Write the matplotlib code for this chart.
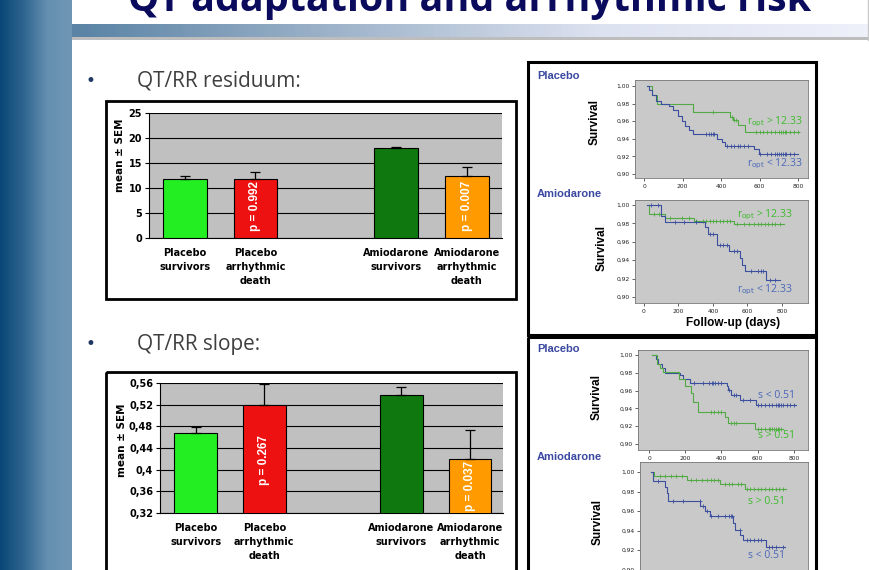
import numpy as np
import matplotlib
matplotlib.use("Agg")
import matplotlib.pyplot as plt
from matplotlib.colors import LinearSegmentedColormap
from matplotlib.patches import Rectangle

W, H = 870, 570

# ---- bar charts ----
groups = ["Placebo\nsurvivors", "Placebo\narrhythmic\ndeath",
          "Amiodarone\nsurvivors", "Amiodarone\narrhythmic\ndeath"]
bar_pos = [0, 1, 3, 4]
bar_colors = ["#22ee22", "#ee1111", "#0f780f", "#ff9a00"]

resid_mean = [11.8, 11.8, 18.05, 12.5]
resid_sem = [0.6, 1.5, 0.25, 1.8]
resid_p = ["p = 0.992", "p = 0.007"]

slope_mean = [0.468, 0.520, 0.538, 0.420]
slope_sem = [0.011, 0.038, 0.014, 0.053]
slope_p = ["p = 0.267", "p = 0.037"]
slope_ticks = [0.32, 0.36, 0.40, 0.44, 0.48, 0.52, 0.56]
slope_ticklabels = ["0,32", "0,36", "0,4", "0,44", "0,48", "0,52", "0,56"]

# ---- Kaplan-Meier curves (step times in days, survival) ----
km_yticks = [0.90, 0.92, 0.94, 0.96, 0.98, 1.00]
km_yticklabels = ["0,90", "0,92", "0,94", "0,96", "0,98", "1,00"]
km_xticks = [0, 200, 400, 600, 800]

# placebo, QT/RR residuum
pr_hi_t = [15, 40, 65, 255, 445, 464, 490, 525, 803]
pr_hi_s = [1.0, 0.990, 0.980, 0.971, 0.965, 0.961, 0.956, 0.948, 0.948]
pr_hi_c = [360, 455, 470, 480, 580, 600, 620, 640, 660, 680, 700, 710, 720, 730, 740, 760, 780, 800]
pr_lo_t = [15, 25, 40, 60, 90, 130, 150, 175, 195, 215, 235, 255, 377, 403, 420, 569, 595, 800]
pr_lo_s = [1.0, 0.995, 0.990, 0.983, 0.980, 0.977, 0.973, 0.966, 0.960, 0.955, 0.950, 0.945, 0.940, 0.936, 0.932, 0.928, 0.923, 0.923]
pr_lo_c = [320, 340, 350, 360, 365, 430, 450, 470, 490, 500, 520, 540, 600, 640, 660, 680, 690, 700, 710, 720, 730, 740, 760, 780]

# amiodarone, QT/RR residuum
ar_hi_t = [15, 30, 120, 290, 520, 810]
ar_hi_s = [1.0, 0.990, 0.986, 0.983, 0.979, 0.979]
ar_hi_c = [60, 90, 150, 220, 260, 300, 340, 360, 380, 400, 420, 440, 460, 480, 500, 540, 580, 610, 640, 660, 680, 700, 720, 740, 760, 790]
ar_lo_t = [20, 101, 120, 353, 373, 421, 493, 557, 571, 583, 707, 790]
ar_lo_s = [1.0, 0.988, 0.982, 0.976, 0.969, 0.957, 0.950, 0.942, 0.935, 0.928, 0.918, 0.918]
ar_lo_c = [40, 80, 180, 230, 300, 380, 400, 440, 460, 480, 520, 540, 620, 660, 680, 690, 730, 760]

# placebo, QT/RR slope
ps_lo_t = [15, 37, 51, 70, 88, 171, 189, 226, 428, 437, 455, 501, 593, 813]
ps_lo_s = [1.0, 0.995, 0.990, 0.985, 0.980, 0.978, 0.973, 0.969, 0.965, 0.961, 0.955, 0.950, 0.944, 0.944]
ps_lo_c = [250, 300, 330, 345, 355, 365, 380, 395, 440, 470, 480, 520, 560, 600, 620, 640, 660, 680, 700, 710, 720, 730, 740, 760, 780, 800]
ps_hi_t = [15, 42, 60, 75, 165, 198, 229, 244, 272, 418, 437, 583, 740]
ps_hi_s = [1.0, 0.990, 0.985, 0.981, 0.973, 0.965, 0.957, 0.947, 0.936, 0.930, 0.924, 0.917, 0.917]
ps_hi_c = [340, 360, 380, 395, 450, 470, 480, 600, 620, 640, 660, 670, 680, 690, 700, 710, 720, 730]

# amiodarone, QT/RR slope
as_hi_t = [11, 30, 211, 390, 528, 758]
as_hi_s = [1.0, 0.996, 0.992, 0.988, 0.983, 0.983]
as_hi_c = [60, 90, 120, 150, 180, 230, 260, 290, 320, 340, 360, 380, 420, 440, 460, 490, 510, 540, 560, 580, 600, 620, 640, 660, 680, 700, 720, 740]
as_lo_t = [11, 24, 88, 97, 106, 281, 308, 336, 464, 477, 501, 519, 648, 749]
as_lo_s = [1.0, 0.991, 0.985, 0.978, 0.970, 0.965, 0.960, 0.955, 0.948, 0.941, 0.935, 0.930, 0.923, 0.923]
as_lo_c = [50, 130, 190, 280, 300, 320, 340, 380, 420, 440, 450, 460, 500, 540, 560, 580, 600, 620, 660, 680, 700, 740]

KM_GREEN = "#52aa44"
KM_BLUE = "#3b4f9e"
TXT_GREEN = "#3dbb2c"
TXT_BLUE = "#4a68b8"
NAVY = "#3a48a0"

fig = plt.figure(figsize=(W / 100, H / 100), dpi=100)
fig.patch.set_facecolor("white")


def rect(x0, y0, x1, y1):
    return [x0 / W, 1 - y1 / H, (x1 - x0) / W, (y1 - y0) / H]


def ftext(x, y, s, **kw):
    return fig.text(x / W, 1 - y / H, s, **kw)


# background layer: side strip, header bar, boxes
bg = fig.add_axes([0, 0, 1, 1], zorder=-1)
strip = LinearSegmentedColormap.from_list("strip", ["#0a4676", "#2f6690", "#6690b0", "#6f97b5"])
bg.imshow(np.linspace(0, 1, 200)[None, :], cmap=strip, extent=[0, 72, H, 0], aspect="auto")
band = LinearSegmentedColormap.from_list("band", ["#5a83a5", "#9fb4ca", "#dde2f0", "#eef0fa"])
bg.imshow(np.linspace(0, 1, 200)[None, :], cmap=band, extent=[72, 868, 37, 24], aspect="auto")
bg.add_patch(Rectangle((72, 37), 796, 3, color="#bdbdbd", lw=0))
bg.plot([868, 868], [0, 40], color="#c8c8c8", lw=1)
bg.add_patch(Rectangle((106, 101), 410, 198, fill=False, lw=2, ec="black"))
bg.add_patch(Rectangle((106, 372), 410, 210, fill=False, lw=2, ec="black"))
bg.add_patch(Rectangle((528, 62), 288, 273, fill=False, lw=2.2, ec="black"))
bg.add_patch(Rectangle((528, 337), 288, 245, fill=False, lw=2.2, ec="black"))
bg.set_xlim(0, W)
bg.set_ylim(H, 0)
bg.axis("off")

# title (top cut off in the original)
title = ftext(470, 11, "QT adaptation and arrhythmic risk", ha="center", va="baseline",
              fontsize=26, fontweight="bold", color="#0b0b5e", family="Open Sans")
r = fig.canvas.get_renderer()
title.set_fontsize(26 * 684 / title.get_window_extent(r).width)

subs = []
for y, txt in [(86.5, "QT/RR residuum:"), (350, "QT/RR slope:")]:
    ftext(85, y - 1, "\u2022", fontsize=12, color="#1f3864", va="baseline")
    subs.append(ftext(137, y, txt, fontsize=14, color="#3f3f3f", va="baseline", family="Open Sans"))
r = fig.canvas.get_renderer()
sc = 165 / subs[0].get_window_extent(r).width
for t in subs:
    t.set_fontsize(14 * sc)


def bar_chart(area, means, sems, ptexts, ptext_y, ylim, ticks, ticklabels, xlim):
    ax = fig.add_axes(rect(*area))
    ax.set_facecolor("#c0c0c0")
    ax.bar(bar_pos, means, width=0.62, color=bar_colors, edgecolor="black", linewidth=0.8, zorder=3)
    ax.errorbar(bar_pos, means, yerr=[np.zeros(len(sems)), sems], fmt="none", ecolor="black",
                elinewidth=0.9, capsize=3.5, capthick=0.9, zorder=4)
    ax.set_xlim(*xlim)
    ax.set_ylim(*ylim)
    ax.set_yticks(ticks)
    ax.set_yticklabels(ticklabels, fontsize=7, fontweight="bold")
    ax.set_xticks(bar_pos)
    ax.set_xticklabels(groups, fontsize=7, fontweight="bold", linespacing=1.5)
    ax.yaxis.grid(True, color="black", linewidth=0.8)
    ax.set_axisbelow(True)
    for sp in ["top", "right"]:
        ax.spines[sp].set_visible(False)
    ax.spines["left"].set_linewidth(0.8)
    ax.spines["bottom"].set_linewidth(0.8)
    ax.tick_params(axis="x", length=0, pad=7)
    ax.tick_params(axis="y", length=3, width=0.8, pad=2)
    for i, txt in enumerate(ptexts):
        ax.text(bar_pos[2 * i + 1], ptext_y[i], txt, rotation=90, ha="center", va="center",
                color="white", fontsize=8.5, fontweight="bold", family="Liberation Sans", zorder=5)
    return ax


bar_chart((149, 113, 502, 238), resid_mean, resid_sem, resid_p, [6.4, 6.4],
          (0, 25), [0, 5, 10, 15, 20, 25], ["0", "5", "10", "15", "20", "25"], (-0.51, 4.5))
bar_chart((160, 383, 503, 513), slope_mean, slope_sem, slope_p, [0.418, 0.370],
          (0.32, 0.56), slope_ticks, slope_ticklabels, (-0.52, 4.48))
ftext(120, 155, "mean \u00b1 SEM", rotation=90, ha="center", va="center", fontsize=7.5, fontweight="bold")
ftext(122, 440, "mean \u00b1 SEM", rotation=90, ha="center", va="center", fontsize=7.5, fontweight="bold")


def km_plot(area, xlim, ylim, curves, show_x=True):
    ax = fig.add_axes(rect(*area))
    ax.set_facecolor("#c9c9c9")
    for t, s, c, col in curves:
        ax.step(t, s, where="post", color=col, lw=0.8)
        idx = np.searchsorted(t, c, side="right") - 1
        ax.plot(c, np.array(s)[idx], "+", color=col, ms=2.5, mew=0.6)
    ax.set_xlim(*xlim)
    ax.set_ylim(*ylim)
    ax.set_xticks(km_xticks)
    ax.set_yticks(km_yticks)
    ax.set_yticklabels(km_yticklabels)
    ax.tick_params(labelsize=4.3, length=2, width=0.5, pad=2, colors="#222222")
    for sp in ax.spines.values():
        sp.set_color("#777777")
        sp.set_linewidth(0.6)
    if not show_x:
        ax.set_xticklabels([])
    return ax


km_plot((635, 80, 808, 178), (-47, 852), (0.8955, 1.0068),
        [(pr_hi_t, pr_hi_s, pr_hi_c, KM_GREEN), (pr_lo_t, pr_lo_s, pr_lo_c, KM_BLUE)])
km_plot((635, 200, 808, 303), (-52, 951), (0.8935, 1.0054),
        [(ar_hi_t, ar_hi_s, ar_hi_c, KM_GREEN), (ar_lo_t, ar_lo_s, ar_lo_c, KM_BLUE)])
km_plot((638, 350, 808, 450), (-61, 878), (0.8933, 1.0056),
        [(ps_lo_t, ps_lo_s, ps_lo_c, KM_BLUE), (ps_hi_t, ps_hi_s, ps_hi_c, KM_GREEN)])
km_plot((640, 462, 808, 575), (-50, 878), (0.8944, 1.0103),
        [(as_hi_t, as_hi_s, as_hi_c, KM_GREEN), (as_lo_t, as_lo_s, as_lo_c, KM_BLUE)], show_x=False)

for x, y in [(595, 122), (602, 248), (597, 397), (598, 522)]:
    ftext(x, y, "Survival", rotation=90, ha="center", va="center", fontsize=8.5,
          fontweight="bold", family="Liberation Sans")
for y, txt in [(76, "Placebo"), (194, "Amiodarone"), (349, "Placebo"), (457, "Amiodarone")]:
    ftext(537, y, txt, ha="left", va="center", fontsize=8, fontweight="bold",
          color=NAVY, family="Liberation Sans")
ftext(733, 323, "Follow-up (days)", ha="center", va="center", fontsize=8.5,
      fontweight="bold", family="Liberation Sans")

ropt_hi = r"r$_{\rm opt}$ > 12.33"
ropt_lo = r"r$_{\rm opt}$ < 12.33"
for x, y, txt, col in [(747, 122, ropt_hi, TXT_GREEN), (747, 164, ropt_lo, TXT_BLUE),
                       (737, 215, ropt_hi, TXT_GREEN), (737, 290, ropt_lo, TXT_BLUE),
                       (758, 395, "s < 0.51", TXT_BLUE), (758, 436, "s > 0.51", TXT_GREEN),
                       (748, 502, "s > 0.51", TXT_GREEN), (748, 555, "s < 0.51", TXT_BLUE)]:
    ftext(x, y, txt, ha="left", va="center", fontsize=7.5, color=col, family="Open Sans")

fig.savefig("out.png", dpi=100)
